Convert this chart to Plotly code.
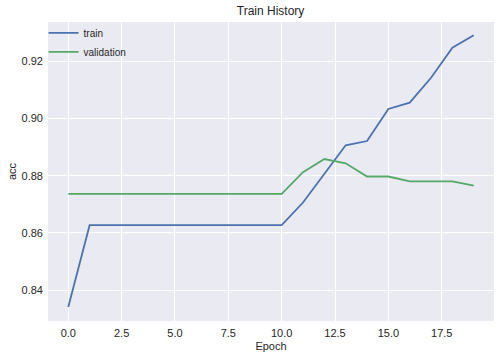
import plotly.graph_objects as go

epochs = list(range(20))
train_acc = [0.8341, 0.8627, 0.8627, 0.8627, 0.8627, 0.8627, 0.8627, 0.8627, 0.8627, 0.8627,
             0.8627, 0.8706, 0.8804, 0.8906, 0.8921, 0.9033, 0.9055, 0.9142, 0.9247, 0.9291]
val_acc = [0.8736, 0.8736, 0.8736, 0.8736, 0.8736, 0.8736, 0.8736, 0.8736, 0.8736, 0.8736,
           0.8736, 0.8812, 0.8858, 0.8843, 0.8797, 0.8797, 0.8780, 0.8780, 0.8780, 0.8765]

font = "Liberation Sans, Arial, sans-serif"

fig = go.Figure()
fig.add_trace(go.Scatter(x=epochs, y=train_acc, mode='lines', name='train',
                         line=dict(color='#4C72B0', width=1.8)))
fig.add_trace(go.Scatter(x=epochs, y=val_acc, mode='lines', name='validation',
                         line=dict(color='#55A868', width=1.8)))

fig.update_layout(
    width=501, height=359,
    margin=dict(l=48, r=7, t=22, b=38),
    paper_bgcolor='white', plot_bgcolor='#EAEAF2',
    font=dict(family=font, size=11, color='#262626'),
    title=dict(text='Train History', x=0.54, xanchor='center', y=0.97, yanchor='middle',
               font=dict(size=12, color='#262626')),
    legend=dict(x=-0.01, y=1.012, xanchor='left', yanchor='top', bgcolor='rgba(0,0,0,0)',
                font=dict(size=10), tracegroupgap=0),
    showlegend=True,
)
fig.update_xaxes(range=[-0.95, 19.95], dtick=2.5, tick0=0, tickformat='.1f',
                 showgrid=True, gridcolor='white', gridwidth=1, zeroline=False,
                 showline=False, ticks='', ticklabelstandoff=4,
                 title=dict(text='Epoch', standoff=4, font=dict(size=11)))
fig.update_yaxes(range=[0.8292, 0.9337], dtick=0.02, tick0=0.84, tickformat='.2f',
                 showgrid=True, gridcolor='white', gridwidth=1, zeroline=False,
                 showline=False, ticks='', ticklabelstandoff=4,
                 title=dict(text='acc', standoff=2, font=dict(size=11)))

fig.write_html("out.html", config={'displayModeBar': False},
               post_script="document.body.style.margin='0';")
